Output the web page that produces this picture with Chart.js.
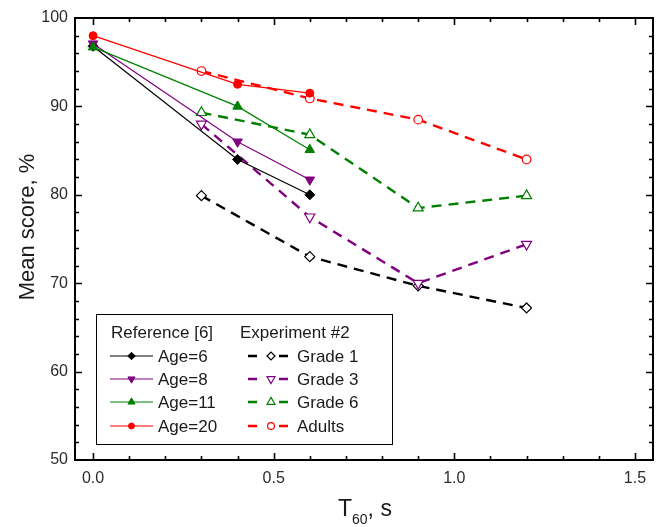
<!DOCTYPE html>
<html>
<head>
<meta charset="utf-8">
<script src="https://cdn.jsdelivr.net/npm/chart.js@4/dist/chart.umd.min.js"></script>
<style>
  html, body { margin: 0; padding: 0; background: #fff; }
  #wrap { width: 661px; height: 527px; }
</style>
</head>
<body>
<div id="wrap"><canvas id="c" width="661" height="527"></canvas></div>
<script>
// Reverberation time (s) for the two data sources
const refT60 = [0, 0.4, 0.6];
const expT60 = [0.3, 0.6, 0.9, 1.2];

// Reference [6] mean scores (%)
const age6  = [96.8, 84.0, 80.0];
const age8  = [97.1, 86.0, 81.7];
const age11 = [96.7, 90.0, 85.1];
const age20 = [98.0, 92.5, 91.5];

// Experiment #2 mean scores (%)
const grade1 = [79.9, 73.0, 69.7, 67.2];
const grade3 = [88.0, 77.5, 70.0, 74.4];
const grade6 = [89.3, 86.8, 78.5, 79.9];
const adults = [94.0, 90.9, 88.5, 84.0];

// Axis ticks
const xTicks = [0, 0.5, 1.0, 1.5];
const xTickLabels = ['0.0', '0.5', '1.0', '1.5'];
const yTicks = [50, 60, 70, 80, 90, 100];
const yTickLabels = ['50', '60', '70', '80', '90', '100'];

const FONT = "'Liberation Sans', Arial, Helvetica, sans-serif";
const BLACK = '#000000', PURPLE = '#800080', GREEN = '#008000', RED = '#ff0000';

const pts = (xs, ys) => xs.map((x, i) => ({ x: x, y: ys[i] }));

// lower "order" is painted later (on top): later series overlay earlier ones,
// and the reference curves sit above the experiment curves
function refSet(label, ys, color, style, radius, rotation, order) {
  return {
    label, data: pts(refT60, ys), showLine: true, order,
    borderColor: color, backgroundColor: color, borderWidth: 1.2,
    pointStyle: style, pointRadius: radius, pointHoverRadius: radius,
    pointRotation: rotation || 0,
    pointBackgroundColor: color, pointBorderColor: color, pointBorderWidth: 1,
    group: 'ref'
  };
}
function expSet(label, ys, color, style, radius, rotation, order) {
  return {
    label, data: pts(expT60, ys), showLine: true, order,
    borderColor: color, backgroundColor: '#ffffff', borderWidth: 2.4,
    borderDash: [10, 7],
    pointStyle: style, pointRadius: radius, pointHoverRadius: radius,
    pointRotation: rotation || 0,
    pointBackgroundColor: '#ffffff', pointBorderColor: color, pointBorderWidth: 1.2,
    group: 'exp'
  };
}

const datasets = [
  refSet('Age=6',  age6,  BLACK,  'rectRot',  5,   0,   3),
  refSet('Age=8',  age8,  PURPLE, 'triangle', 5.5, 180, 2),
  refSet('Age=11', age11, GREEN,  'triangle', 5.5, 0,   1),
  refSet('Age=20', age20, RED,    'circle',   4,   0,   0),
  expSet('Grade 1', grade1, BLACK,  'rectRot',  5,   0,   7),
  expSet('Grade 3', grade3, PURPLE, 'triangle', 5.8, 180, 6),
  expSet('Grade 6', grade6, GREEN,  'triangle', 5.8, 0,   5),
  expSet('Adults',  adults, RED,    'circle',   4.3, 0,   4)
];

// Frame, inward ticks, axis titles and the two-column legend
const decorations = {
  id: 'decorations',
  afterDatasetsDraw(chart) {
    const ctx = chart.ctx;
    const a = chart.chartArea;
    const xs = chart.scales.x, ys = chart.scales.y;
    ctx.save();
    ctx.strokeStyle = '#000';
    ctx.lineWidth = 1.6;
    // minor/major ticks along x (top & bottom)
    for (let i = 0; i <= 15; i++) {
      const v = i / 10;
      const px = Math.round(xs.getPixelForValue(v)) + 0.5;
      const len = (i % 5 === 0) ? 7 : 4;
      ctx.beginPath();
      ctx.moveTo(px, a.bottom); ctx.lineTo(px, a.bottom - len);
      ctx.moveTo(px, a.top); ctx.lineTo(px, a.top + len);
      ctx.stroke();
    }
    // minor/major ticks along y (left & right)
    for (let v = 52; v < 100; v += 2) {
      const py = Math.round(ys.getPixelForValue(v)) + 0.5;
      const len = (v % 10 === 0) ? 7 : 4;
      ctx.beginPath();
      ctx.moveTo(a.left, py); ctx.lineTo(a.left + len, py);
      ctx.moveTo(a.right, py); ctx.lineTo(a.right - len, py);
      ctx.stroke();
    }
    // frame
    ctx.lineWidth = 2;
    ctx.strokeRect(a.left, a.top, a.right - a.left, a.bottom - a.top);

    // axis titles
    ctx.fillStyle = '#1a1a1a';
    ctx.textBaseline = 'alphabetic';
    ctx.font = '22px ' + FONT;
    ctx.save();
    ctx.translate(34, 227);
    ctx.rotate(-Math.PI / 2);
    ctx.textAlign = 'center';
    ctx.fillText('Mean score, %', 0, 0);
    ctx.restore();

    ctx.textAlign = 'left';
    let tx = 338;
    const ty = 516;
    ctx.font = '23px ' + FONT;
    ctx.fillText('T', tx, ty);
    tx += ctx.measureText('T').width;
    ctx.font = '14px ' + FONT;
    ctx.fillText('60', tx, ty + 8);
    tx += ctx.measureText('60').width;
    ctx.font = '23px ' + FONT;
    ctx.fillText(', s', tx, ty);

    // legend box
    const bx = 96, by = 314, bw = 296, bh = 130;
    ctx.fillStyle = '#fff';
    ctx.fillRect(bx, by, bw, bh);
    ctx.lineWidth = 1;
    ctx.strokeStyle = '#000';
    ctx.strokeRect(bx + 0.5, by + 0.5, bw, bh);

    ctx.fillStyle = '#1a1a1a';
    ctx.font = '17px ' + FONT;
    ctx.textBaseline = 'middle';
    ctx.fillText('Reference [6]', 111, 333);
    ctx.fillText('Experiment #2', 240, 333);

    const rowY = [356, 379, 402, 426];
    const ref = datasets.filter(d => d.group === 'ref');
    const exp = datasets.filter(d => d.group === 'exp');
    const drawMarker = (d, x, y, scale) => {
      ctx.save();
      ctx.fillStyle = d.pointBackgroundColor;
      ctx.strokeStyle = d.pointBorderColor;
      ctx.lineWidth = d.pointBorderWidth;
      Chart.helpers.drawPoint(ctx, {
        pointStyle: d.pointStyle, rotation: d.pointRotation,
        radius: d.pointRadius * scale, borderWidth: d.pointBorderWidth
      }, x, y);
      ctx.restore();
    };
    ref.forEach((d, i) => {
      const y = rowY[i];
      ctx.strokeStyle = d.borderColor;
      ctx.lineWidth = 1.2;
      ctx.setLineDash([]);
      ctx.beginPath(); ctx.moveTo(110, y); ctx.lineTo(153, y); ctx.stroke();
      drawMarker(d, 131.5, y, 0.75);
      ctx.fillStyle = '#1a1a1a';
      ctx.fillText(d.label, 158, y + 1);
    });
    exp.forEach((d, i) => {
      const y = rowY[i];
      ctx.strokeStyle = d.borderColor;
      ctx.lineWidth = 2.4;
      ctx.setLineDash([]);
      ctx.beginPath();
      ctx.moveTo(248, y); ctx.lineTo(257, y);
      ctx.moveTo(279, y); ctx.lineTo(288, y);
      ctx.stroke();
      drawMarker(d, 271, y, 0.8);
      ctx.fillStyle = '#1a1a1a';
      ctx.fillText(d.label, 297, y + 1);
    });
    ctx.restore();
  }
};

new Chart(document.getElementById('c'), {
  type: 'scatter',
  data: { datasets },
  options: {
    responsive: false,
    animation: false,
    devicePixelRatio: 1,
    layout: { padding: { left: 0, top: 18, right: 8, bottom: 0 } },
    plugins: { legend: { display: false }, tooltip: { enabled: false } },
    scales: {
      x: {
        type: 'linear', min: -0.05, max: 1.55,
        grid: { display: false, drawTicks: false },
        border: { display: false },
        afterBuildTicks: s => { s.ticks = xTicks.map(v => ({ value: v })); },
        afterFit: s => { s.height = 67; },
        ticks: {
          padding: 9, color: '#2b2b2b', font: { family: FONT, size: 16 },
          maxRotation: 0, autoSkip: false,
          callback: (v) => xTickLabels[xTicks.indexOf(v)]
        }
      },
      y: {
        type: 'linear', min: 50, max: 100,
        grid: { display: false, drawTicks: false },
        border: { display: false },
        afterBuildTicks: s => { s.ticks = yTicks.map(v => ({ value: v })); },
        afterFit: s => { s.width = 75; },
        ticks: {
          padding: 7, color: '#2b2b2b', font: { family: FONT, size: 16 },
          autoSkip: false,
          callback: (v) => yTickLabels[yTicks.indexOf(v)]
        }
      }
    }
  },
  plugins: [decorations]
});
</script>
</body>
</html>
